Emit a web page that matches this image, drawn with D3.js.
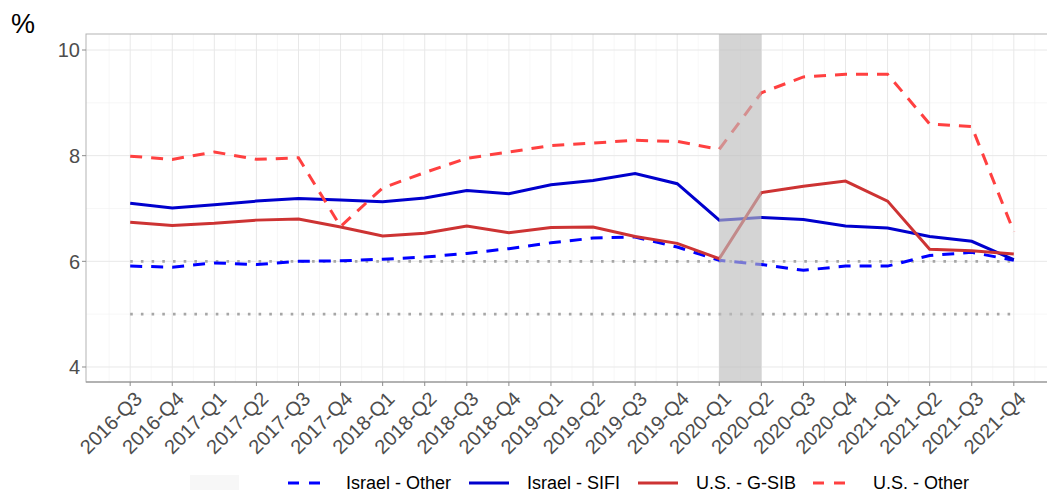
<!DOCTYPE html>
<html>
<head>
<meta charset="utf-8">
<script src="https://cdn.jsdelivr.net/npm/d3@7"></script>
<style>
  body { margin: 0; background: #fff; }
  svg { display: block; font-family: "Liberation Sans", Arial, sans-serif; }
</style>
</head>
<body>
<svg id="chart" width="1047" height="490"></svg>
<script>
// quarters on the x axis
var quarters = ["2016-Q3","2016-Q4","2017-Q1","2017-Q2","2017-Q3","2017-Q4",
    "2018-Q1","2018-Q2","2018-Q3","2018-Q4","2019-Q1","2019-Q2","2019-Q3","2019-Q4",
    "2020-Q1","2020-Q2","2020-Q3","2020-Q4","2021-Q1","2021-Q2","2021-Q3","2021-Q4"];

// series values, %
var israelOther = [5.91,5.89,5.97,5.94,6.00,6.01,6.04,6.08,6.15,6.24,6.35,6.44,6.46,6.27,6.02,5.94,5.83,5.91,5.91,6.11,6.17,6.02];
var israelSifi  = [7.10,7.01,7.07,7.14,7.19,7.16,7.13,7.20,7.34,7.28,7.45,7.53,7.66,7.47,6.78,6.83,6.79,6.67,6.63,6.47,6.38,6.03];
var usGsib      = [6.74,6.68,6.72,6.78,6.80,6.65,6.48,6.53,6.67,6.54,6.64,6.65,6.47,6.34,6.05,7.30,7.42,7.52,7.14,6.23,6.20,6.14];
var usOther     = [7.99,7.93,8.07,7.93,7.96,6.66,7.39,7.68,7.95,8.07,8.19,8.24,8.29,8.27,8.12,9.19,9.49,9.54,9.54,8.60,8.55,6.56];

var seriesNames = ["Israel - Other", "Israel - SIFI", "U.S. - G-SIB", "U.S. - Other"];
var yTicks = [4, 6, 8, 10];
var refLines = [5, 6];           // dotted reference levels
var shadeFrom = "2020-Q1", shadeTo = "2020-Q2";

var series = [
    {name: seriesNames[0], values: israelOther, color: "#0000ff", dash: "12,9"},
    {name: seriesNames[1], values: israelSifi,  color: "#0000cd", dash: null},
    {name: seriesNames[2], values: usGsib,      color: "#cd3333", dash: null},
    {name: seriesNames[3], values: usOther,     color: "#ff4040", dash: "12,9"}
];

(function() {
    var svg = d3.select("#chart");
    var pL = 86, pR = 1058, pT = 34, pB = 382;

    var x = d3.scaleLinear().domain([-1.05, quarters.length - 1 + 1.05]).range([pL, pR]);
    var y = d3.scaleLinear().domain([3.716, 10.303]).range([pB, pT]);

    svg.append("clipPath").attr("id", "panel")
        .append("rect").attr("x", pL).attr("y", pT).attr("width", pR - pL).attr("height", pB - pT);

    var panel = svg.append("g").attr("clip-path", "url(#panel)");

    // minor grid
    var minorX = d3.range(-0.5, quarters.length + 0.5, 1);
    panel.selectAll(".mx").data(minorX).enter().append("line")
        .attr("x1", d => x(d)).attr("x2", d => x(d)).attr("y1", pT).attr("y2", pB)
        .attr("stroke", "#f2f2f2").attr("stroke-width", 0.6);
    panel.selectAll(".my").data([5, 7, 9]).enter().append("line")
        .attr("x1", pL).attr("x2", pR).attr("y1", d => y(d)).attr("y2", d => y(d))
        .attr("stroke", "#f2f2f2").attr("stroke-width", 0.6);
    // major grid
    panel.selectAll(".gx").data(quarters).enter().append("line")
        .attr("x1", (d, i) => x(i)).attr("x2", (d, i) => x(i)).attr("y1", pT).attr("y2", pB)
        .attr("stroke", "#e8e8e8").attr("stroke-width", 1);
    panel.selectAll(".gy").data(yTicks).enter().append("line")
        .attr("x1", pL).attr("x2", pR).attr("y1", d => y(d)).attr("y2", d => y(d))
        .attr("stroke", "#e8e8e8").attr("stroke-width", 1);

    // dotted reference lines
    panel.selectAll(".ref").data(refLines).enter().append("line")
        .attr("x1", x(0)).attr("x2", x(quarters.length - 1) + 2)
        .attr("y1", d => y(d)).attr("y2", d => y(d))
        .attr("stroke", "#a6a6a6").attr("stroke-width", 2.6)
        .attr("stroke-dasharray", "2.6,8.1");

    // series lines
    var line = d3.line().x((d, i) => x(i)).y(d => y(d));
    panel.selectAll(".series").data(series).enter().append("path")
        .attr("d", d => line(d.values))
        .attr("fill", "none")
        .attr("stroke", d => d.color)
        .attr("stroke-width", 3)
        .attr("stroke-dasharray", d => d.dash);

    // shaded period drawn over the lines
    var i0 = quarters.indexOf(shadeFrom), i1 = quarters.indexOf(shadeTo);
    panel.append("rect")
        .attr("x", x(i0)).attr("y", pT)
        .attr("width", x(i1) - x(i0)).attr("height", pB - pT)
        .attr("fill", "#bbbbbb").attr("fill-opacity", 0.64);

    // panel border
    svg.append("rect").attr("x", pL).attr("y", pT).attr("width", pR - pL).attr("height", pB - pT)
        .attr("fill", "none").attr("stroke", "#b3b3b3").attr("stroke-width", 1);
    svg.append("line").attr("x1", pL).attr("x2", pR).attr("y1", pB).attr("y2", pB)
        .attr("stroke", "#8c8c8c").attr("stroke-width", 1.2);

    // y axis
    var ya = svg.append("g");
    ya.selectAll("line").data(yTicks).enter().append("line")
        .attr("x1", pL - 4).attr("x2", pL).attr("y1", d => y(d)).attr("y2", d => y(d))
        .attr("stroke", "#8c8c8c");
    ya.selectAll("text").data(yTicks).enter().append("text")
        .attr("x", pL - 6).attr("y", d => y(d)).attr("dy", "0.36em")
        .attr("text-anchor", "end").attr("font-size", 20).attr("fill", "#4d4d4d")
        .text(d => d);

    // x axis
    var xa = svg.append("g");
    xa.selectAll("line").data(quarters).enter().append("line")
        .attr("x1", (d, i) => x(i)).attr("x2", (d, i) => x(i)).attr("y1", pB).attr("y2", pB + 4)
        .attr("stroke", "#8c8c8c");
    xa.selectAll("text").data(quarters).enter().append("text")
        .attr("transform", (d, i) => "translate(" + (x(i) + 3) + "," + (pB + 8) + ") rotate(-45)")
        .attr("dy", "0.72em")
        .attr("text-anchor", "end").attr("font-size", 20).attr("fill", "#4d4d4d")
        .text(d => d);

    // unit label
    svg.append("text").attr("x", 11).attr("y", 33).attr("font-size", 27).attr("fill", "#000").text("%");

    // legend
    var legend = svg.append("g");
    legend.append("rect").attr("x", 190).attr("y", 475).attr("width", 49).attr("height", 15).attr("fill", "#f7f7f7");
    var keyX = [288, 469, 638, 813];
    var textX = [346, 527, 696, 873];
    series.forEach(function(s, k) {
        legend.append("line")
            .attr("x1", keyX[k]).attr("x2", keyX[k] + 40).attr("y1", 483).attr("y2", 483)
            .attr("stroke", s.color).attr("stroke-width", 3)
            .attr("stroke-dasharray", s.dash ? "11,10" : null);
        legend.append("text").attr("x", textX[k]).attr("y", 489)
            .attr("font-size", 18).attr("fill", "#000").text(s.name);
    });
})();
</script>
</body>
</html>
